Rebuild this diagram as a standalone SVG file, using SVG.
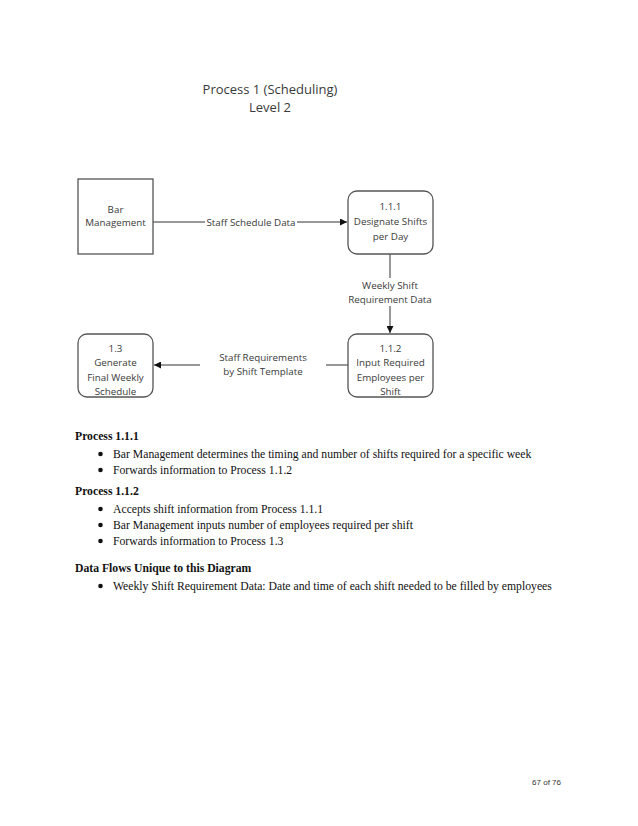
<svg xmlns="http://www.w3.org/2000/svg" width="638" height="826" viewBox="0 0 638 826">
<style>
.box{fill:#fff;stroke:#555;stroke-width:1.3}
.dt{font-family:"Open Sans","Liberation Sans",sans-serif;font-size:9.8px;fill:#3a3a3a;text-anchor:middle}
.ln{stroke:#333;stroke-width:1;fill:none}
.lbl{fill:#fff}
.body{font-family:"Liberation Serif",serif;font-size:11.7px;fill:#111}
.b{font-weight:bold}
</style>
<defs>
<marker id="ah" viewBox="0 0 10 10" refX="10" refY="5" markerWidth="7" markerHeight="7" orient="auto" markerUnits="userSpaceOnUse">
<path d="M0,0 L10,5 L0,10 z" fill="#111"/>
</marker>
</defs>
<rect width="638" height="826" fill="#fff"/>
<g id="title" font-family="'Open Sans','Liberation Sans',sans-serif" font-size="13" fill="#3a3a3a" text-anchor="middle">
<text x="270" y="94">Process 1  (Scheduling)</text>
<text x="270" y="112">Level 2</text>
</g>
<g id="connectors">
<line class="ln" x1="153" y1="222" x2="347" y2="222" marker-end="url(#ah)"/>
<rect class="lbl" x="205" y="215" width="92" height="14"/>
<text class="dt" x="251" y="226">Staff Schedule Data</text>
<line class="ln" x1="390" y1="254" x2="390" y2="333" marker-end="url(#ah)"/>
<rect class="lbl" x="340" y="278" width="100" height="28"/>
<text class="dt" x="390" y="289">Weekly Shift</text>
<text class="dt" x="390" y="303">Requirement Data</text>
<line class="ln" x1="348" y1="365" x2="154" y2="365" marker-end="url(#ah)"/>
<rect class="lbl" x="200" y="351" width="126" height="28"/>
<text class="dt" x="263" y="361">Staff Requirements</text>
<text class="dt" x="263" y="375">by Shift Template</text>
</g>
<g id="bar-management">
<rect class="box" x="78" y="179" width="75" height="75"/>
<text class="dt" x="115.5" y="213">Bar</text>
<text class="dt" x="115.5" y="226">Management</text>
</g>
<g id="p111">
<rect class="box" x="348" y="191" width="85" height="63" rx="9"/>
<text class="dt" x="390.5" y="210">1.1.1</text>
<text class="dt" x="390.5" y="225">Designate Shifts</text>
<text class="dt" x="390.5" y="240">per Day</text>
</g>
<g id="p112">
<rect class="box" x="348" y="334" width="85" height="63" rx="9"/>
<text class="dt" x="390.5" y="352">1.1.2</text>
<text class="dt" x="390.5" y="366">Input Required</text>
<text class="dt" x="390.5" y="381">Employees per</text>
<text class="dt" x="390.5" y="395">Shift</text>
</g>
<g id="p13">
<rect class="box" x="78" y="334" width="75" height="63" rx="9"/>
<text class="dt" x="115.5" y="352">1.3</text>
<text class="dt" x="115.5" y="366">Generate</text>
<text class="dt" x="115.5" y="381">Final Weekly</text>
<text class="dt" x="115.5" y="395">Schedule</text>
</g>
<g id="body" class="body">
<text class="b" x="75" y="440">Process 1.1.1</text>
<circle cx="100.5" cy="454" r="2.3"/>
<text x="113" y="458">Bar Management determines the timing and number of shifts required for a specific week</text>
<circle cx="100.5" cy="470" r="2.3"/>
<text x="113" y="474">Forwards information to  Process 1.1.2</text>
<text class="b" x="75" y="495">Process 1.1.2</text>
<circle cx="100.5" cy="509" r="2.3"/>
<text x="113" y="513">Accepts shift information from Process 1.1.1</text>
<circle cx="100.5" cy="525" r="2.3"/>
<text x="113" y="529">Bar Management inputs number of employees required per shift</text>
<circle cx="100.5" cy="541" r="2.3"/>
<text x="113" y="545">Forwards information to Process 1.3</text>
<text class="b" x="75" y="572">Data Flows Unique to this Diagram</text>
<circle cx="100.5" cy="586" r="2.3"/>
<text x="113" y="590">Weekly Shift Requirement Data:  Date and time of each shift needed to be filled by employees</text>
<text x="561" y="785" font-family="'Liberation Sans',sans-serif" font-size="8" text-anchor="end" fill="#333">67 of 76</text>
</g>
</svg>
